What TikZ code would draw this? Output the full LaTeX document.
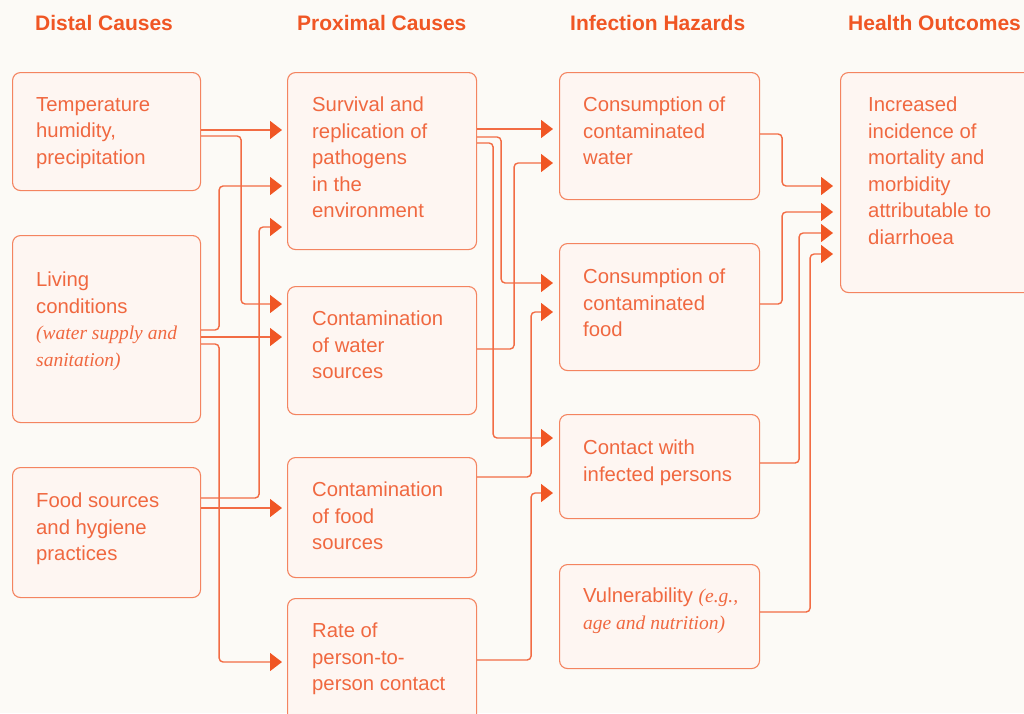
\documentclass[tikz,border=0pt]{standalone}
\usepackage{fontspec}
\setmainfont{Liberation Sans}
\newfontfamily\notefont{Liberation Serif}
\usepackage{xcolor}
\usetikzlibrary{arrows.meta}

\definecolor{hot}{RGB}{240,86,36}
\definecolor{linec}{RGB}{242,108,68}
\definecolor{boxline}{RGB}{244,132,96}
\definecolor{boxfill}{RGB}{254,246,242}
\definecolor{textc}{RGB}{240,104,64}
\definecolor{paper}{RGB}{252,250,246}

\newcommand{\note}[1]{{\notefont\itshape\fontsize{19.5}{26.5}\selectfont #1}}

\begin{document}
\begin{tikzpicture}[
    x=1pt, y=-1pt,
    box/.style={draw=boxline, fill=boxfill, line width=1.1pt, rounded corners=8pt,
                anchor=north west, inner sep=0pt},
    txt/.style={anchor=north west, inner sep=0pt, align=left, text=textc,
                font=\fontsize{20.3}{26.5}\selectfont,
                execute at begin node=\rule{0pt}{15pt}},
    head/.style={anchor=base west, inner sep=0pt, text=hot,
                 font=\bfseries\fontsize{21}{25}\selectfont},
    link/.style={draw=linec, line width=1.4pt, rounded corners=4pt,
                 -{Triangle[length=12pt, width=18pt, color=hot]}},
]

\fill[paper] (0,0) rectangle (1024,713);
\useasboundingbox (0,0) rectangle (1024,713);

%% Column headings
\node[head] (hdist) at (35,30)  {Distal Causes};
\node[head] (hprox) at (297,30) {Proximal Causes};
\node[head] (hhaz)  at (570,30) {Infection Hazards};
\node[head] (hout)  at (848,30) {Health Outcomes};

%% Distal causes
\node[box, minimum width=188pt, minimum height=118pt] (T) at (12,72)  {};
\node[box, minimum width=188pt, minimum height=187pt] (L) at (12,235) {};
\node[box, minimum width=188pt, minimum height=130pt] (F) at (12,467) {};

%% Proximal causes
\node[box, minimum width=189pt, minimum height=177pt] (S)  at (287,72)  {};
\node[box, minimum width=189pt, minimum height=128pt] (W)  at (287,286) {};
\node[box, minimum width=189pt, minimum height=120pt] (Fd) at (287,457) {};
\node[box, minimum width=189pt, minimum height=132pt] (R)  at (287,598) {};

%% Infection hazards
\node[box, minimum width=200pt, minimum height=127pt] (CW) at (559,72)  {};
\node[box, minimum width=200pt, minimum height=127pt] (CF) at (559,243) {};
\node[box, minimum width=200pt, minimum height=104pt] (CI) at (559,414) {};
\node[box, minimum width=200pt, minimum height=104pt] (V)  at (559,564) {};

%% Health outcome
\node[box, minimum width=200pt, minimum height=220pt] (H) at (840,72) {};

%% Box texts
\node[txt] (Ttxt)  at ([shift={(24,25)}]T.north west)  {Temperature\\humidity,\\precipitation};
\node[txt] (Ltxt)  at ([shift={(24,37)}]L.north west)  {Living\\conditions\\\note{(water supply and}\\\note{sanitation)}};
\node[txt] (Ftxt)  at ([shift={(24,26)}]F.north west)  {Food sources\\and hygiene\\practices};
\node[txt] (Stxt)  at ([shift={(25,25)}]S.north west)  {Survival and\\replication of\\pathogens\\in the\\environment};
\node[txt] (Wtxt)  at ([shift={(25,25)}]W.north west)  {Contamination\\of water\\sources};
\node[txt] (Fdtxt) at ([shift={(25,25)}]Fd.north west) {Contamination\\of food\\sources};
\node[txt] (Rtxt)  at ([shift={(25,25)}]R.north west)  {Rate of\\person-to-\\person contact};
\node[txt] (CWtxt) at ([shift={(24,25)}]CW.north west) {Consumption of\\contaminated\\water};
\node[txt] (CFtxt) at ([shift={(24,26)}]CF.north west) {Consumption of\\contaminated\\food};
\node[txt] (CItxt) at ([shift={(24,26)}]CI.north west) {Contact with\\infected persons};
\node[txt] (Vtxt)  at ([shift={(24,24)}]V.north west)  {Vulnerability \note{(e.g.,}\\\note{age and nutrition)}};
\node[txt] (Htxt)  at ([shift={(28,25)}]H.north west)  {Increased\\incidence of\\mortality and\\morbidity\\attributable to\\diarrhoea};

%% Straight arrows
\draw[link, shorten >=5pt] ([yshift=-58pt]T.north east)  -- ([yshift=-58pt]S.north west);
\draw[link, shorten >=5pt] ([yshift=-102pt]L.north east) -- ([yshift=-51pt]W.north west);
\draw[link, shorten >=5pt] ([yshift=-41pt]F.north east)  -- ([yshift=-51pt]Fd.north west);
\draw[link, shorten >=6pt] ([yshift=-57pt]S.north east)  -- ([yshift=-57pt]CW.north west);

%% Elbow arrows: distal -> proximal
\foreach \from/\fy/\dx/\to/\ty in {T/64/40/W/18, L/95/18/S/114, L/109/18/R/64, F/31/58/S/155}
    \draw[link, shorten >=5pt] ([yshift=-\fy pt]\from.north east) -- ++(\dx,0) |- ([yshift=-\ty pt]\to.north west);

%% Elbow arrows: proximal -> hazards
\foreach \from/\fy/\dx/\to/\ty in {S/65/24/CF/40, S/71/16/CI/24, W/63/37/CW/91, Fd/20/54/CF/69, R/62/54/CI/79}
    \draw[link, shorten >=6pt] ([yshift=-\fy pt]\from.north east) -- ++(\dx,0) |- ([yshift=-\ty pt]\to.north west);

%% Elbow arrows: hazards -> outcome
\foreach \from/\fy/\dx/\ty in {CW/62/22/114, CF/61/22/140, CI/49/39/161, V/48/50/182}
    \draw[link, shorten >=7pt] ([yshift=-\fy pt]\from.north east) -- ++(\dx,0) |- ([yshift=-\ty pt]H.north west);

\end{tikzpicture}
\end{document}
